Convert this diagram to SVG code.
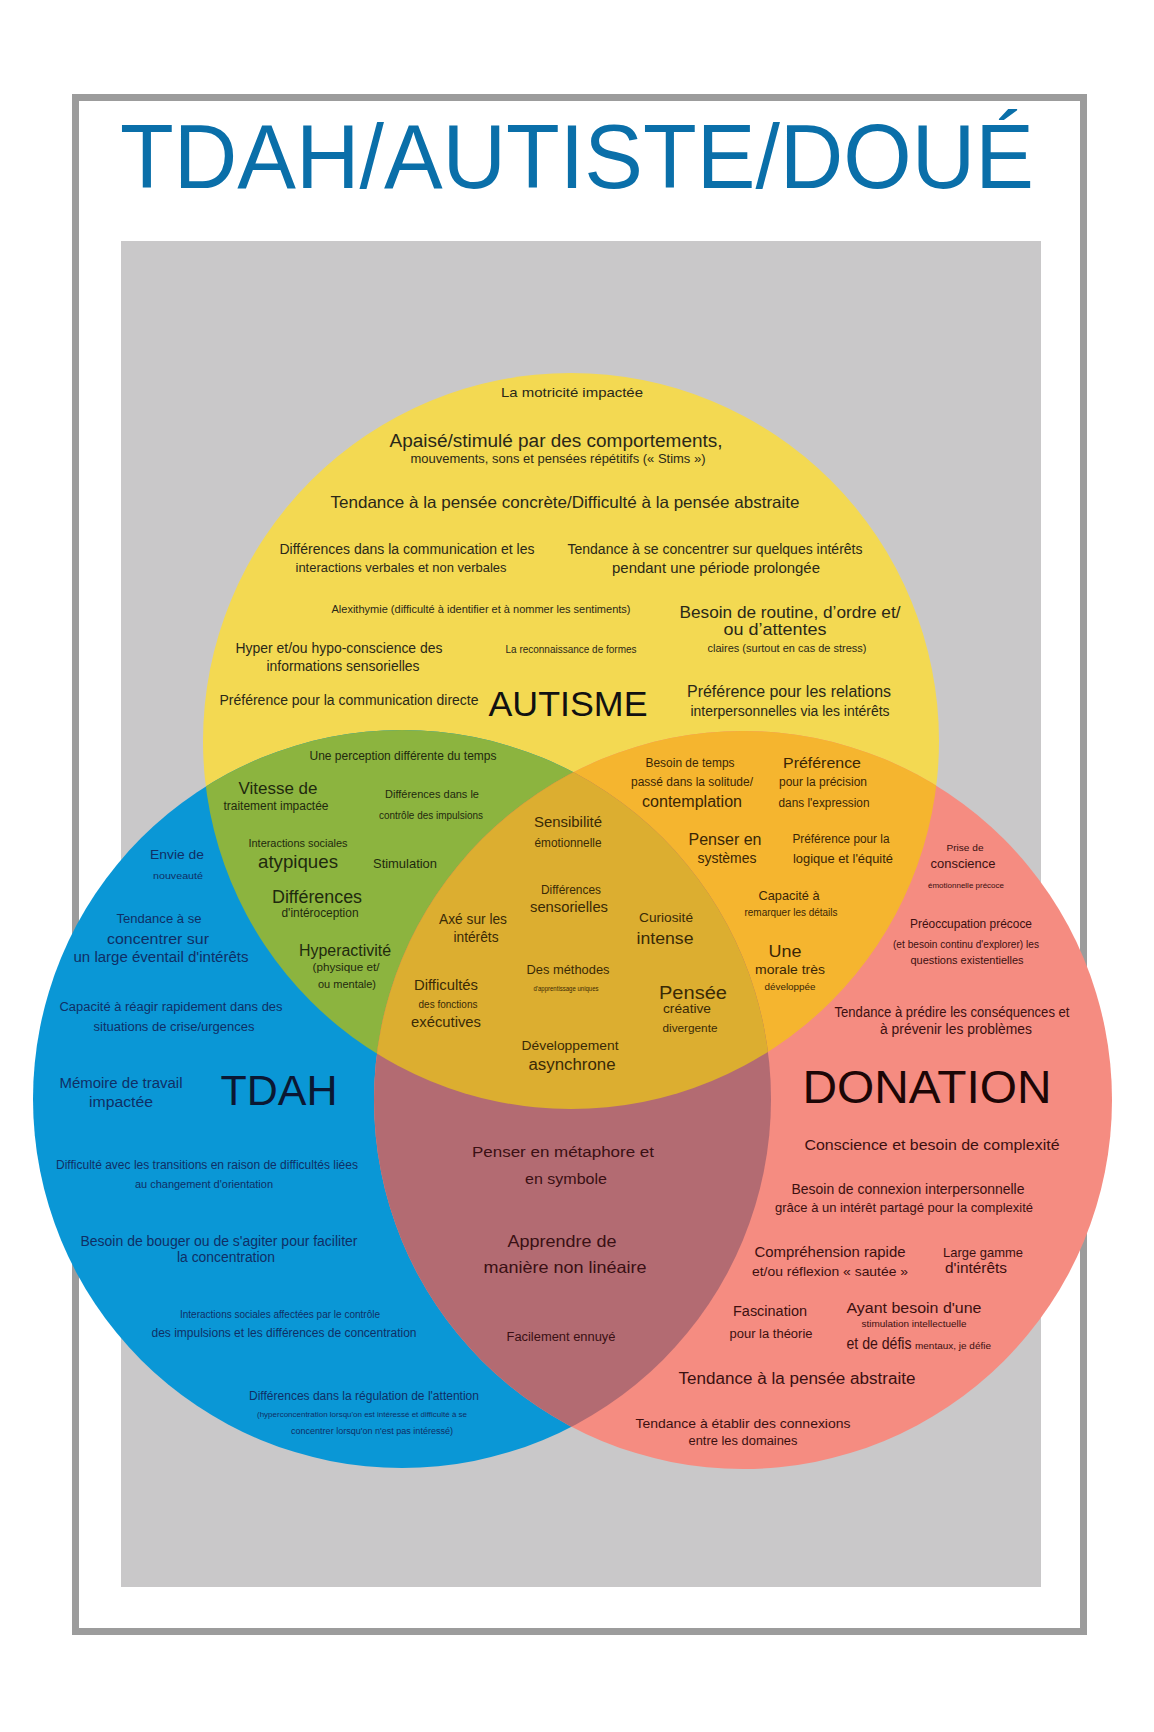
<svg xmlns="http://www.w3.org/2000/svg" width="1154" height="1732" viewBox="0 0 1154 1732">
<style>
text{font-family:"Liberation Sans",Arial,Helvetica,sans-serif;text-anchor:middle}
.ty{fill:#2a2818}
.tg{fill:#1f2a0e}
.to{fill:#3a2606}
.tc{fill:#3a2a06}
.tb{fill:#0f2f66}
.tr{fill:#3c1010}
.tm{fill:#3a1014}
</style>
<defs>
<clipPath id="cB"><circle cx="402" cy="1099" r="369"/></clipPath>
<clipPath id="cR"><circle cx="743" cy="1100" r="369"/></clipPath>
</defs>
<rect x="0" y="0" width="1154" height="1732" fill="#ffffff"/>
<g id="frame">
<rect x="75.5" y="97.5" width="1008" height="1534" fill="#ffffff" stroke="#9c9c9c" stroke-width="7"/>
<rect x="121" y="241" width="920" height="1346" fill="#c9c8c9"/>
</g>
<g id="title">
<text x="577" y="188" font-size="90" fill="#0a6fa9" textLength="914" lengthAdjust="spacingAndGlyphs">TDAH/AUTISTE/DOUÉ</text>
</g>
<g id="circles">
<circle id="c-yellow" cx="571" cy="741" r="368" fill="#f3d952"/>
<circle id="c-blue" cx="402" cy="1099" r="369" fill="#0a97d6"/>
<circle id="c-red" cx="743" cy="1100" r="369" fill="#f58c81"/>
<circle id="lens-green" cx="571" cy="741" r="368" fill="#8cb43f" clip-path="url(#cB)"/>
<circle id="lens-orange" cx="571" cy="741" r="368" fill="#f5b52f" clip-path="url(#cR)"/>
<circle id="lens-mauve" cx="402" cy="1099" r="369" fill="#b36b72" clip-path="url(#cR)"/>
<g clip-path="url(#cB)"><circle id="lens-center" cx="571" cy="741" r="368" fill="#dcae30" clip-path="url(#cR)"/></g>
</g>
<g id="connectors"></g>
<g id="node-autisme">
<text class="ty" x="572" y="397" font-size="13" textLength="142" lengthAdjust="spacingAndGlyphs">La motricité impactée</text>
<text class="ty" x="556" y="447" font-size="18" textLength="333" lengthAdjust="spacingAndGlyphs">Apaisé/stimulé par des comportements,</text>
<text class="ty" x="558" y="463" font-size="12.5" textLength="295" lengthAdjust="spacingAndGlyphs">mouvements, sons et pensées répétitifs (« Stims »)</text>
<text class="ty" x="565" y="508" font-size="16.5" textLength="469" lengthAdjust="spacingAndGlyphs">Tendance à la pensée concrète/Difficulté à la pensée abstraite</text>
<text class="ty" x="407" y="554" font-size="14" textLength="255" lengthAdjust="spacingAndGlyphs">Différences dans la communication et les</text>
<text class="ty" x="401" y="572" font-size="13.5" textLength="211" lengthAdjust="spacingAndGlyphs">interactions verbales et non verbales</text>
<text class="ty" x="715" y="554" font-size="14" textLength="295" lengthAdjust="spacingAndGlyphs">Tendance à se concentrer sur quelques intérêts</text>
<text class="ty" x="716" y="573" font-size="15" textLength="208" lengthAdjust="spacingAndGlyphs">pendant une période prolongée</text>
<text class="ty" x="481" y="613" font-size="11" textLength="299" lengthAdjust="spacingAndGlyphs">Alexithymie (difficulté à identifier et à nommer les sentiments)</text>
<text class="ty" x="790" y="618" font-size="17" textLength="221" lengthAdjust="spacingAndGlyphs">Besoin de routine, d’ordre et/</text>
<text class="ty" x="775" y="635" font-size="17" textLength="103" lengthAdjust="spacingAndGlyphs">ou d’attentes</text>
<text class="ty" x="787" y="652" font-size="11.5" textLength="159" lengthAdjust="spacingAndGlyphs">claires (surtout en cas de stress)</text>
<text class="ty" x="339" y="653" font-size="14.5" textLength="207" lengthAdjust="spacingAndGlyphs">Hyper et/ou hypo-conscience des</text>
<text class="ty" x="343" y="671" font-size="14.5" textLength="153" lengthAdjust="spacingAndGlyphs">informations sensorielles</text>
<text class="ty" x="571" y="653" font-size="10.5" textLength="131" lengthAdjust="spacingAndGlyphs">La reconnaissance de formes</text>
<text class="ty" x="349" y="705" font-size="14" textLength="259" lengthAdjust="spacingAndGlyphs">Préférence pour la communication directe</text>
<text x="568" y="716" font-size="35" fill="#111111" textLength="159" lengthAdjust="spacingAndGlyphs">AUTISME</text>
<text class="ty" x="789" y="697" font-size="16" textLength="204" lengthAdjust="spacingAndGlyphs">Préférence pour les relations</text>
<text class="ty" x="790" y="716" font-size="14" textLength="199" lengthAdjust="spacingAndGlyphs">interpersonnelles via les intérêts</text>
</g>
<g id="node-autisme-tdah">
<text class="tg" x="403" y="760" font-size="12" textLength="187" lengthAdjust="spacingAndGlyphs">Une perception différente du temps</text>
<text class="tg" x="278" y="794" font-size="17" textLength="79" lengthAdjust="spacingAndGlyphs">Vitesse de</text>
<text class="tg" x="276" y="810" font-size="12" textLength="105" lengthAdjust="spacingAndGlyphs">traitement impactée</text>
<text class="tg" x="432" y="798" font-size="11" textLength="94" lengthAdjust="spacingAndGlyphs">Différences dans le</text>
<text class="tg" x="431" y="819" font-size="10.5" textLength="104" lengthAdjust="spacingAndGlyphs">contrôle des impulsions</text>
<text class="tg" x="298" y="847" font-size="11" textLength="99" lengthAdjust="spacingAndGlyphs">Interactions sociales</text>
<text class="tg" x="298" y="868" font-size="19" textLength="80" lengthAdjust="spacingAndGlyphs">atypiques</text>
<text class="tg" x="405" y="868" font-size="13" textLength="64" lengthAdjust="spacingAndGlyphs">Stimulation</text>
<text class="tg" x="317" y="903" font-size="18" textLength="90" lengthAdjust="spacingAndGlyphs">Différences</text>
<text class="tg" x="320" y="917" font-size="12" textLength="77" lengthAdjust="spacingAndGlyphs">d'intéroception</text>
<text class="tg" x="345" y="956" font-size="16" textLength="92" lengthAdjust="spacingAndGlyphs">Hyperactivité</text>
<text class="tg" x="346" y="971" font-size="11.5" textLength="67" lengthAdjust="spacingAndGlyphs">(physique et/</text>
<text class="tg" x="347" y="988" font-size="11.5" textLength="58" lengthAdjust="spacingAndGlyphs">ou mentale)</text>
</g>
<g id="node-autisme-donation">
<text class="to" x="690" y="767" font-size="12" textLength="89" lengthAdjust="spacingAndGlyphs">Besoin de temps</text>
<text class="to" x="692" y="786" font-size="12" textLength="122" lengthAdjust="spacingAndGlyphs">passé dans la solitude/</text>
<text class="to" x="692" y="807" font-size="16" textLength="100" lengthAdjust="spacingAndGlyphs">contemplation</text>
<text class="to" x="822" y="768" font-size="15.5" textLength="78" lengthAdjust="spacingAndGlyphs">Préférence</text>
<text class="to" x="823" y="786" font-size="12.5" textLength="88" lengthAdjust="spacingAndGlyphs">pour la précision</text>
<text class="to" x="824" y="807" font-size="12" textLength="91" lengthAdjust="spacingAndGlyphs">dans l'expression</text>
<text class="to" x="725" y="845" font-size="16" textLength="73" lengthAdjust="spacingAndGlyphs">Penser en</text>
<text class="to" x="727" y="863" font-size="14" textLength="59" lengthAdjust="spacingAndGlyphs">systèmes</text>
<text class="to" x="841" y="843" font-size="12" textLength="97" lengthAdjust="spacingAndGlyphs">Préférence pour la</text>
<text class="to" x="843" y="863" font-size="13" textLength="100" lengthAdjust="spacingAndGlyphs">logique et l'équité</text>
<text class="to" x="789" y="900" font-size="13" textLength="61" lengthAdjust="spacingAndGlyphs">Capacité à</text>
<text class="to" x="791" y="916" font-size="10" textLength="93" lengthAdjust="spacingAndGlyphs">remarquer les détails</text>
<text class="to" x="785" y="957" font-size="17" textLength="33" lengthAdjust="spacingAndGlyphs">Une</text>
<text class="to" x="790" y="974" font-size="13.5" textLength="70" lengthAdjust="spacingAndGlyphs">morale très</text>
<text class="to" x="790" y="990" font-size="9.5" textLength="51" lengthAdjust="spacingAndGlyphs">développée</text>
</g>
<g id="node-center">
<text class="tc" x="568" y="827" font-size="14.5" textLength="68" lengthAdjust="spacingAndGlyphs">Sensibilité</text>
<text class="tc" x="568" y="847" font-size="12" textLength="67" lengthAdjust="spacingAndGlyphs">émotionnelle</text>
<text class="tc" x="571" y="894" font-size="12" textLength="60" lengthAdjust="spacingAndGlyphs">Différences</text>
<text class="tc" x="569" y="912" font-size="14.5" textLength="78" lengthAdjust="spacingAndGlyphs">sensorielles</text>
<text class="tc" x="473" y="924" font-size="14" textLength="68" lengthAdjust="spacingAndGlyphs">Axé sur les</text>
<text class="tc" x="476" y="942" font-size="14" textLength="45" lengthAdjust="spacingAndGlyphs">intérêts</text>
<text class="tc" x="666" y="922" font-size="13" textLength="54" lengthAdjust="spacingAndGlyphs">Curiosité</text>
<text class="tc" x="665" y="944" font-size="16" textLength="57" lengthAdjust="spacingAndGlyphs">intense</text>
<text class="tc" x="568" y="974" font-size="13.5" textLength="83" lengthAdjust="spacingAndGlyphs">Des méthodes</text>
<text class="tc" x="566" y="991" font-size="6.5" textLength="65" lengthAdjust="spacingAndGlyphs">d'apprentissage uniques</text>
<text class="tc" x="446" y="990" font-size="14" textLength="64" lengthAdjust="spacingAndGlyphs">Difficultés</text>
<text class="tc" x="448" y="1008" font-size="10" textLength="59" lengthAdjust="spacingAndGlyphs">des fonctions</text>
<text class="tc" x="446" y="1027" font-size="14.5" textLength="70" lengthAdjust="spacingAndGlyphs">exécutives</text>
<text class="tc" x="693" y="999" font-size="18" textLength="68" lengthAdjust="spacingAndGlyphs">Pensée</text>
<text class="tc" x="687" y="1013" font-size="13" textLength="48" lengthAdjust="spacingAndGlyphs">créative</text>
<text class="tc" x="690" y="1032" font-size="11" textLength="55" lengthAdjust="spacingAndGlyphs">divergente</text>
<text class="tc" x="570" y="1050" font-size="13.5" textLength="97" lengthAdjust="spacingAndGlyphs">Développement</text>
<text class="tc" x="572" y="1070" font-size="16" textLength="87" lengthAdjust="spacingAndGlyphs">asynchrone</text>
</g>
<g id="node-tdah">
<text class="tb" x="177" y="859" font-size="13" textLength="54" lengthAdjust="spacingAndGlyphs">Envie de</text>
<text class="tb" x="178" y="879" font-size="9.5" textLength="50" lengthAdjust="spacingAndGlyphs">nouveauté</text>
<text class="tb" x="159" y="923" font-size="12.5" textLength="85" lengthAdjust="spacingAndGlyphs">Tendance à se</text>
<text class="tb" x="158" y="944" font-size="14.5" textLength="102" lengthAdjust="spacingAndGlyphs">concentrer sur</text>
<text class="tb" x="161" y="962" font-size="14" textLength="175" lengthAdjust="spacingAndGlyphs">un large éventail d'intérêts</text>
<text class="tb" x="171" y="1011" font-size="12.5" textLength="223" lengthAdjust="spacingAndGlyphs">Capacité à réagir rapidement dans des</text>
<text class="tb" x="174" y="1031" font-size="12.5" textLength="161" lengthAdjust="spacingAndGlyphs">situations de crise/urgences</text>
<text class="tb" x="121" y="1088" font-size="14" textLength="123" lengthAdjust="spacingAndGlyphs">Mémoire de travail</text>
<text class="tb" x="121" y="1107" font-size="14" textLength="64" lengthAdjust="spacingAndGlyphs">impactée</text>
<text x="279" y="1105" font-size="42" fill="#0b1733" textLength="117" lengthAdjust="spacingAndGlyphs">TDAH</text>
<text class="tb" x="207" y="1169" font-size="12.5" textLength="302" lengthAdjust="spacingAndGlyphs">Difficulté avec les transitions en raison de difficultés liées</text>
<text class="tb" x="204" y="1188" font-size="11.5" textLength="138" lengthAdjust="spacingAndGlyphs">au changement d'orientation</text>
<text class="tb" x="219" y="1246" font-size="14" textLength="277" lengthAdjust="spacingAndGlyphs">Besoin de bouger ou de s'agiter pour faciliter</text>
<text class="tb" x="226" y="1262" font-size="14" textLength="98" lengthAdjust="spacingAndGlyphs">la concentration</text>
<text class="tb" x="280" y="1318" font-size="10" textLength="200" lengthAdjust="spacingAndGlyphs">Interactions sociales affectées par le contrôle</text>
<text class="tb" x="284" y="1337" font-size="12" textLength="265" lengthAdjust="spacingAndGlyphs">des impulsions et les différences de concentration</text>
<text class="tb" x="364" y="1400" font-size="12.5" textLength="230" lengthAdjust="spacingAndGlyphs">Différences dans la régulation de l'attention</text>
<text class="tb" x="362" y="1417" font-size="7.5" textLength="210" lengthAdjust="spacingAndGlyphs">(hyperconcentration lorsqu'on est intéressé et difficulté à se</text>
<text class="tb" x="372" y="1434" font-size="8.5" textLength="162" lengthAdjust="spacingAndGlyphs">concentrer lorsqu'on n'est pas intéressé)</text>
</g>
<g id="node-tdah-donation">
<text class="tm" x="563" y="1157" font-size="15.5" textLength="182" lengthAdjust="spacingAndGlyphs">Penser en métaphore et</text>
<text class="tm" x="566" y="1184" font-size="15" textLength="82" lengthAdjust="spacingAndGlyphs">en symbole</text>
<text class="tm" x="562" y="1247" font-size="16.5" textLength="109" lengthAdjust="spacingAndGlyphs">Apprendre de</text>
<text class="tm" x="565" y="1273" font-size="16.5" textLength="163" lengthAdjust="spacingAndGlyphs">manière non linéaire</text>
<text class="tm" x="561" y="1341" font-size="12.5" textLength="109" lengthAdjust="spacingAndGlyphs">Facilement ennuyé</text>
</g>
<g id="node-donation">
<text class="tr" x="965" y="851" font-size="9.5" textLength="37" lengthAdjust="spacingAndGlyphs">Prise de</text>
<text class="tr" x="963" y="868" font-size="13" textLength="65" lengthAdjust="spacingAndGlyphs">conscience</text>
<text class="tr" x="966" y="888" font-size="7.5" textLength="76" lengthAdjust="spacingAndGlyphs">émotionnelle précoce</text>
<text class="tr" x="971" y="928" font-size="13" textLength="122" lengthAdjust="spacingAndGlyphs">Préoccupation précoce</text>
<text class="tr" x="966" y="948" font-size="10" textLength="146" lengthAdjust="spacingAndGlyphs">(et besoin continu d'explorer) les</text>
<text class="tr" x="967" y="964" font-size="11" textLength="113" lengthAdjust="spacingAndGlyphs">questions existentielles</text>
<text class="tr" x="952" y="1017" font-size="14" textLength="235" lengthAdjust="spacingAndGlyphs">Tendance à prédire les conséquences et</text>
<text class="tr" x="956" y="1034" font-size="14" textLength="152" lengthAdjust="spacingAndGlyphs">à prévenir les problèmes</text>
<text x="927" y="1103" font-size="47" fill="#1c0606" textLength="249" lengthAdjust="spacingAndGlyphs">DONATION</text>
<text class="tr" x="932" y="1150" font-size="15.5" textLength="255" lengthAdjust="spacingAndGlyphs">Conscience et besoin de complexité</text>
<text class="tr" x="908" y="1194" font-size="14" textLength="233" lengthAdjust="spacingAndGlyphs">Besoin de connexion interpersonnelle</text>
<text class="tr" x="904" y="1212" font-size="13" textLength="258" lengthAdjust="spacingAndGlyphs">grâce à un intérêt partagé pour la complexité</text>
<text class="tr" x="830" y="1257" font-size="14.5" textLength="151" lengthAdjust="spacingAndGlyphs">Compréhension rapide</text>
<text class="tr" x="830" y="1276" font-size="13.5" textLength="156" lengthAdjust="spacingAndGlyphs">et/ou réflexion « sautée »</text>
<text class="tr" x="983" y="1257" font-size="13" textLength="80" lengthAdjust="spacingAndGlyphs">Large gamme</text>
<text class="tr" x="976" y="1273" font-size="15" textLength="62" lengthAdjust="spacingAndGlyphs">d'intérêts</text>
<text class="tr" x="770" y="1316" font-size="14" textLength="74" lengthAdjust="spacingAndGlyphs">Fascination</text>
<text class="tr" x="771" y="1338" font-size="12.5" textLength="83" lengthAdjust="spacingAndGlyphs">pour la théorie</text>
<text class="tr" x="914" y="1313" font-size="15.5" textLength="135" lengthAdjust="spacingAndGlyphs">Ayant besoin d'une</text>
<text class="tr" x="914" y="1327" font-size="9.5" textLength="105" lengthAdjust="spacingAndGlyphs">stimulation intellectuelle</text>
<text class="tr" x="879" y="1349" font-size="16" textLength="65" lengthAdjust="spacingAndGlyphs">et de défis</text>
<text class="tr" x="953" y="1349" font-size="9.5" textLength="76" lengthAdjust="spacingAndGlyphs">mentaux, je défie</text>
<text class="tr" x="797" y="1384" font-size="16" textLength="237" lengthAdjust="spacingAndGlyphs">Tendance à la pensée abstraite</text>
<text class="tr" x="743" y="1428" font-size="13.5" textLength="215" lengthAdjust="spacingAndGlyphs">Tendance à établir des connexions</text>
<text class="tr" x="743" y="1445" font-size="12.5" textLength="109" lengthAdjust="spacingAndGlyphs">entre les domaines</text>
</g>
</svg>
